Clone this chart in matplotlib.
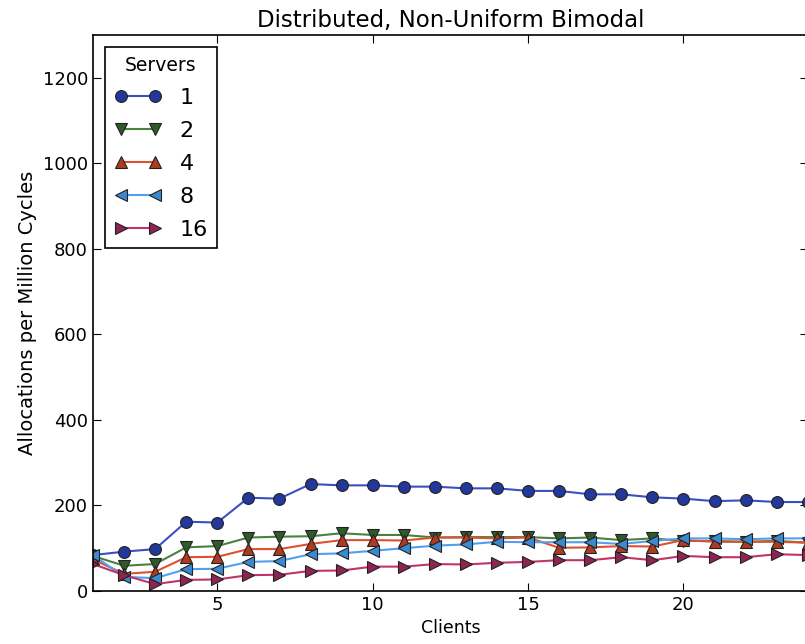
import matplotlib
matplotlib.use("Agg")
import matplotlib.pyplot as plt

clients = list(range(1, 25))

servers_1 = [84, 92, 98, 162, 160, 218, 216, 250, 247, 247, 244, 244,
             240, 240, 234, 234, 226, 226, 219, 216, 210, 212, 208, 208]
servers_2 = [82, 59, 63, 102, 105, 125, 127, 128, 135, 131, 131, 125,
             126, 126, 126, 123, 125, 119, 123, 117, 117, 115, 117, 113]
servers_4 = [74, 40, 45, 79, 80, 98, 98, 110, 119, 119, 118, 125,
             125, 123, 125, 101, 102, 105, 104, 119, 115, 115, 115, 113]
servers_8 = [84, 33, 30, 51, 52, 68, 70, 86, 88, 94, 100, 106,
             109, 115, 114, 114, 114, 110, 117, 123, 123, 121, 123, 123]
servers_16 = [63, 37, 16, 26, 27, 37, 38, 47, 48, 57, 57, 63,
              62, 66, 68, 72, 72, 79, 72, 82, 79, 79, 86, 84]

labels = ["1", "2", "4", "8", "16"]
series = [servers_1, servers_2, servers_4, servers_8, servers_16]
markers = ["o", "v", "^", "<", ">"]
line_colors = ["#3b4fc4", "#4a8040", "#e0502e", "#4fa0ee", "#c2336a"]
face_colors = ["#22389a", "#2f5a2a", "#b03a20", "#3a8ad0", "#8e2452"]

fig = plt.figure(figsize=(8.05, 6.44), dpi=100)
# right spine sits just past the image edge, like the cropped original
ax = fig.add_axes([0.1155, 0.0823, 0.888, 0.8634])

for ys, lab, m, lc, fc in zip(series, labels, markers, line_colors, face_colors):
    ax.plot(clients, ys, color=lc, marker=m, markersize=8.5, markerfacecolor=fc,
            markeredgecolor="#222222", markeredgewidth=0.8, linewidth=1.5, label=lab)

ax.set_xlim(1, 24)
ax.set_ylim(0, 1300)
ax.set_xticks([5, 10, 15, 20])
ax.set_yticks([0, 200, 400, 600, 800, 1000, 1200])
ax.tick_params(direction="in", top=True, right=True, labelsize=13, length=6)
for s in ax.spines.values():
    s.set_linewidth(1.2)

ax.set_title("Distributed, Non-Uniform Bimodal", fontsize=16.5)
ax.set_xlabel("Clients", fontsize=12.5)
ax.set_ylabel("Allocations per Million Cycles", fontsize=14)

leg = ax.legend(title="Servers", loc="upper left", fontsize=16, title_fontsize=13.5,
                fancybox=False, edgecolor="black", framealpha=1, numpoints=2,
                handlelength=2.15, labelspacing=0.58, borderaxespad=0.55)
leg.get_frame().set_linewidth(1.2)

fig.savefig("out.png", dpi=100)
